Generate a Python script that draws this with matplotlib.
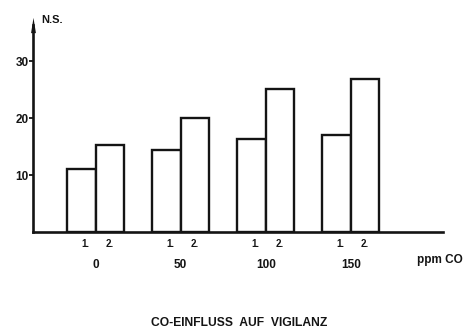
import matplotlib
matplotlib.use("Agg")
import matplotlib.pyplot as plt
from matplotlib.path import Path
import numpy as np

groups = ["0", "50", "100", "150"]
series1 = [11.2, 14.4, 16.4, 17.1]
series2 = [15.4, 20.1, 25.2, 27.0]
sub_labels = ["1.", "2."]
yticks = [10, 20, 30]
unit_label = "ppm CO"
y_label = "N.S."
title = "CO-EINFLUSS  AUF  VIGILANZ"

plt.rcParams['font.family'] = ['Liberation Sans', 'DejaVu Sans']
plt.rcParams['font.weight'] = 'bold'

W, H = 476, 329
fig = plt.figure(figsize=(W / 100, H / 100), dpi=100)
fig.patch.set_facecolor('white')

ax_left, ax_right = 33.3, 443.0
ax_bottom, ax_top = 232.3, 25.0
ax = fig.add_axes([ax_left / W, (H - ax_bottom) / H, (ax_right - ax_left) / W, (ax_bottom - ax_top) / H])

x = np.arange(len(groups))
w = 0.335
lw = 1.7
ink = '#141414'
ax.bar(x - w / 2, series1, width=w, facecolor='white', edgecolor=ink, linewidth=lw, zorder=2)
ax.bar(x + w / 2, series2, width=w, facecolor='white', edgecolor=ink, linewidth=lw, zorder=2)

ax.set_xlim(-0.734, 4.086)
ax.set_ylim(0, 36.4)

for s in ['top', 'right']:
    ax.spines[s].set_visible(False)
for s in ['left', 'bottom']:
    ax.spines[s].set_linewidth(1.9)
    ax.spines[s].set_color(ink)
    ax.spines[s].set_zorder(3)

# narrow arrow head on y axis
arrow = Path([(-0.32, -1.0), (0.32, -1.0), (0.0, 1.0), (-0.32, -1.0)],
             [Path.MOVETO, Path.LINETO, Path.LINETO, Path.CLOSEPOLY])
ax.plot([0], [1], marker=arrow, markersize=11, color=ink, markeredgewidth=0,
        transform=ax.transAxes, clip_on=False)

ax.set_yticks(yticks)
ax.set_yticklabels([str(v) for v in yticks], fontsize=8.5, color=ink)
ax.tick_params(axis='y', direction='out', length=3, width=1.3, pad=0.5, colors=ink)

ax.set_xticks(x)
ax.set_xticklabels(groups, fontsize=8.5, color=ink)
ax.tick_params(axis='x', which='major', length=0, pad=19)

minor_pos = np.concatenate([x - w / 2 + 0.05, x + w / 2])
minor_pos.sort()
ax.set_xticks(minor_pos, minor=True)
ax.set_xticklabels(sub_labels * len(groups), minor=True, fontsize=7, color=ink)
ax.tick_params(axis='x', which='minor', length=0, pad=4.5)

fig.text(440 / W, (H - 260) / H, unit_label, ha='center', va='center', fontsize=8.5, color=ink)
fig.text(52 / W, (H - 20) / H, y_label, ha='center', va='center', fontsize=8, color=ink)
fig.text(239 / W, (H - 323) / H, title, ha='center', va='center', fontsize=8.7, color=ink)

fig.savefig("out.png", dpi=100, facecolor='white')
